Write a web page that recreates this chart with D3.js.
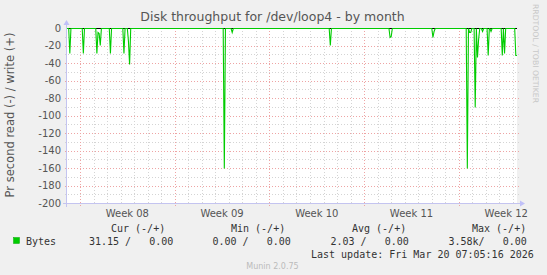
<!DOCTYPE html>
<html><head><meta charset="utf-8">
<script src="https://cdn.jsdelivr.net/npm/d3@7"></script>
<style>body{margin:0;background:#f0f0f0}svg{display:block}</style>
</head><body>
<script>
// ---------- data ----------
const title = "Disk throughput for /dev/loop4 - by month";
const yLabel = "Pr second read (-) / write (+)";
const watermark = "RRDTOOL / TOBI OETIKER";
const timeStart = "2026-02-15T01:00:00";
const timeEnd = "2026-03-20T07:05:16";
const readTimes = [
  "2026-02-15T06:00", "2026-02-16T06:00", "2026-02-17T06:00", "2026-02-17T08:00",
  "2026-02-17T10:00", "2026-02-17T12:00", "2026-02-18T06:00", "2026-02-19T06:00",
  "2026-02-19T14:00", "2026-02-19T16:00", "2026-02-26T16:00", "2026-02-27T06:00",
  "2026-03-06T12:00", "2026-03-10T22:00", "2026-03-11T00:00", "2026-03-14T02:00",
  "2026-03-14T04:00", "2026-03-16T15:00", "2026-03-16T19:00", "2026-03-16T21:00",
  "2026-03-17T05:00", "2026-03-17T09:00", "2026-03-17T11:00", "2026-03-17T18:00",
  "2026-03-18T04:00", "2026-03-18T09:00", "2026-03-19T05:00", "2026-03-19T09:00",
  "2026-03-20T05:00", "2026-03-20T07:00"
];
const readValues = [
  -29, -29, -29, -4,
  -6, -19, -29, -29,
  -15, -41, -160, -5,
  -19, -10, -9, -10,
  -3, -160, -5, -4,
  -90, -33, -12, -3,
  -31, -3, -31, -29,
  -31.15, -31.15
];
const yTicks = [0, -20, -40, -60, -80, -100, -120, -140, -160, -180, -200];
const yMinorTicks = [-10, -30, -50, -70, -90, -110, -130, -150, -170, -190];
const weekLabels = ["Week 08", "Week 09", "Week 10", "Week 11", "Week 12"];
const seriesName = "Bytes";
const seriesColor = "#00cc00";
const legendHeaders = ["Cur (-/+)", "Min (-/+)", "Avg (-/+)", "Max (-/+)"];
const legendValues = ["31.15 /   0.00", "0.00 /   0.00", "2.03 /   0.00", "3.58k/   0.00"];
const lastUpdate = "Last update: Fri Mar 20 07:05:16 2026";
const footer = "Munin 2.0.75";

// ---------- layout ----------
const W = 547, H = 275;
const x0 = 67, x1 = 517, yTop = 28, yBot = 203;
const sans = "'DejaVu Sans', sans-serif";
const mono = "'DejaVu Sans Mono', monospace";

const svg = d3.select("body").append("svg").attr("width", W).attr("height", H);
svg.append("rect").attr("width", W).attr("height", H).attr("fill", "#f0f0f0");

const start = d3.isoParse(timeStart), end = d3.isoParse(timeEnd);
const x = d3.scaleTime().domain([start, end]).range([x0, x1]);
const y = d3.scaleLinear().domain([-200, 0]).range([yBot, yTop]);
const px = v => Math.round(v) + 0.5;

svg.append("rect").attr("x", x0).attr("y", yTop).attr("width", x1 - x0).attr("height", yBot - yTop).attr("fill", "#ffffff");

const grid = svg.append("g").attr("shape-rendering", "crispEdges");
const minorCol = "#d4d4d4", majorCol = "#eea4a4";
const days = d3.timeDay.range(d3.timeDay.ceil(start), end).filter(d => d.getDay() !== 1);
grid.selectAll(".vmin").data(days).join("line")
  .attr("x1", d => px(x(d))).attr("x2", d => px(x(d)))
  .attr("y1", yTop).attr("y2", yBot + 1)
  .attr("stroke", minorCol).attr("stroke-dasharray", "1,2");
grid.selectAll(".hmin").data(yMinorTicks).join("line")
  .attr("x1", x0 - 2).attr("x2", x1 + 2)
  .attr("y1", d => px(y(d))).attr("y2", d => px(y(d)))
  .attr("stroke", minorCol).attr("stroke-dasharray", "1,2");
const mondays = d3.timeMonday.range(start, end);
grid.selectAll(".vmaj").data(mondays).join("line")
  .attr("x1", d => px(x(d))).attr("x2", d => px(x(d)))
  .attr("y1", yTop).attr("y2", yBot + 3)
  .attr("stroke", majorCol).attr("stroke-dasharray", "1,2");
grid.selectAll(".hmaj").data(yTicks.filter(v => v !== 0 && v !== -200)).join("line")
  .attr("x1", x0 - 2).attr("x2", x1 + 2)
  .attr("y1", d => px(y(d))).attr("y2", d => px(y(d)))
  .attr("stroke", majorCol).attr("stroke-dasharray", "1,2");

svg.append("g").selectAll("text").data(yTicks).join("text")
  .attr("x", 61).attr("y", d => y(d) + 3.5)
  .attr("text-anchor", "end").attr("font-family", sans).attr("font-size", 10)
  .attr("fill", "#555").text(d => String(d));

svg.append("g").selectAll("text").data(mondays).join("text")
  .attr("x", d => x(d3.timeHour.offset(d, 84))).attr("y", 217)
  .attr("text-anchor", "middle").attr("font-family", sans).attr("font-size", 10)
  .attr("fill", "#555").text((d, i) => weekLabels[i]);

const pts = readTimes.map((t, i) => ({t: d3.isoParse(t), v: readValues[i]}));
const step = 2 * 3600 * 1000;
const full = [{t: start, v: 0}];
pts.forEach((p, i) => {
  const prev = pts[i - 1], next = pts[i + 1];
  if (!prev || p.t - prev.t > step * 1.01) full.push({t: new Date(+p.t - step), v: 0});
  full.push(p);
  if (!next || next.t - p.t > step * 1.01) { if (+p.t + step < +end) full.push({t: new Date(+p.t + step), v: 0}); }
});
full.sort((a, b) => a.t - b.t);

svg.append("line").attr("x1", x0).attr("x2", x1).attr("y1", px(y(0))).attr("y2", px(y(0)))
  .attr("stroke", "#000").attr("stroke-width", 1).attr("shape-rendering", "crispEdges");

const line = d3.line().x(d => x(d.t)).y(d => px(y(d.v)));
svg.append("path").datum(full).attr("d", line)
  .attr("fill", "none").attr("stroke", seriesColor).attr("stroke-width", 1.1);

const axisCol = "#c4c4f0";
svg.append("line").attr("x1", x0 - 0.5).attr("x2", x0 - 0.5).attr("y1", yBot + 4).attr("y2", yTop - 4)
  .attr("stroke", axisCol).attr("shape-rendering", "crispEdges");
svg.append("line").attr("x1", x0 - 4).attr("x2", x1 + 4).attr("y1", yBot + 0.5).attr("y2", yBot + 0.5)
  .attr("stroke", axisCol).attr("shape-rendering", "crispEdges");
svg.append("path").attr("d", `M${x1 + 3},${yBot - 2.5}L${x1 + 8},${yBot + 0.5}L${x1 + 3},${yBot + 3.5}Z`).attr("fill", "#c0c0f8");
svg.append("path").attr("d", `M${x0 - 3.5},${yTop - 3}L${x0 - 0.5},${yTop - 8}L${x0 + 2.5},${yTop - 3}Z`).attr("fill", "#c0c0f8");

svg.append("text").attr("x", 272.5).attr("y", 21).attr("text-anchor", "middle")
  .attr("font-family", sans).attr("font-size", 12.5).attr("fill", "#555").text(title);
svg.append("text").attr("transform", "translate(13.5,115) rotate(-90)").attr("text-anchor", "middle")
  .attr("font-family", sans).attr("font-size", 11.5).attr("fill", "#555").text(yLabel);
svg.append("text").attr("transform", "translate(533,53.5) rotate(90)").attr("text-anchor", "middle")
  .attr("font-family", sans).attr("font-size", 7.7).attr("fill", "#c8c8c8").text(watermark);

const lg = svg.append("g").attr("font-family", mono).attr("font-size", 10).attr("fill", "#333");
const headerX = [111, 231, 352, 472];
const valueX = [89, 212.5, 330.5, 448.5];
lg.selectAll(".h").data(legendHeaders).join("text").attr("x", (d, i) => headerX[i]).attr("y", 232)
  .attr("xml:space", "preserve").style("white-space", "pre").text(d => d);
lg.selectAll(".v").data(legendValues).join("text").attr("x", (d, i) => valueX[i]).attr("y", 245)
  .attr("xml:space", "preserve").style("white-space", "pre").text(d => d);
svg.append("rect").attr("x", 13.5).attr("y", 237.5).attr("width", 6).attr("height", 6)
  .attr("fill", seriesColor).attr("stroke", "#00aa00").attr("stroke-width", 0.5);
lg.append("text").attr("x", 26).attr("y", 245).text(seriesName);
lg.append("text").attr("x", 311).attr("y", 258).text(lastUpdate);
svg.append("text").attr("x", 272.5).attr("y", 269).attr("text-anchor", "middle")
  .attr("font-family", sans).attr("font-size", 8).attr("fill", "#bbb").text(footer);
</script>
</body></html>
